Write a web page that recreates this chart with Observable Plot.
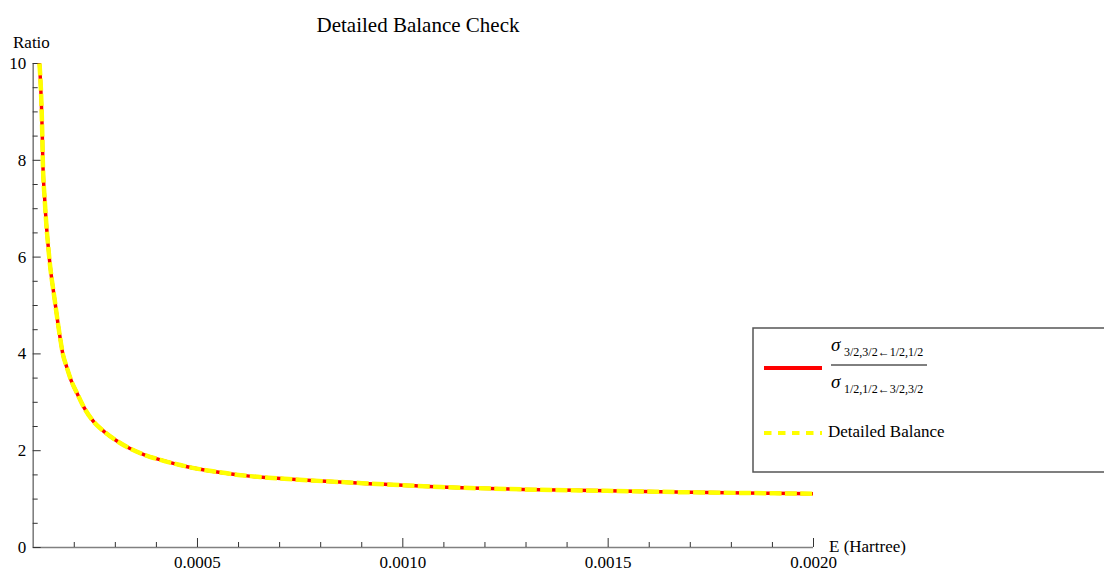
<!DOCTYPE html>
<html><head><meta charset="utf-8">
<script src="https://cdn.jsdelivr.net/npm/d3@7"></script>
<script src="https://cdn.jsdelivr.net/npm/@observablehq/plot@0.6"></script>
<style>body{margin:0;background:#fff;} #chart{width:1104px;height:572px;}</style>
</head><body><div id="chart"></div>
<script>
// Energy (Hartree) and the two ratio curves
const energy = [0.0001153, 0.0001222, 0.0001234, 0.0001282, 0.000139, 0.0001526, 0.0001665, 0.0001721, 0.0001804, 0.0001925, 0.0002071, 0.0002232, 0.0002451, 0.0002719, 0.0003021, 0.0003345, 0.0003693, 0.0004058, 0.000475, 0.000548, 0.000621, 0.000694, 0.000767, 0.0009, 0.001092, 0.001295, 0.001498, 0.0017, 0.001903, 0.002];
const crossSectionRatio = [10.0, 8.5, 8.0, 7.17, 6.0, 5.1, 4.28, 4.0, 3.76, 3.45, 3.18, 2.90, 2.62, 2.40, 2.21, 2.05, 1.92, 1.82, 1.67, 1.56, 1.48, 1.43, 1.39, 1.33, 1.25, 1.20, 1.17, 1.14, 1.12, 1.11];
const detailedBalance = [10.0, 8.5, 8.0, 7.17, 6.0, 5.1, 4.28, 4.0, 3.76, 3.45, 3.18, 2.90, 2.62, 2.40, 2.21, 2.05, 1.92, 1.82, 1.67, 1.56, 1.48, 1.43, 1.39, 1.33, 1.25, 1.20, 1.17, 1.14, 1.12, 1.11];

const xMajorTicks = [0.0005, 0.0010, 0.0015, 0.0020];
const xMinorTicks = [0.0002, 0.0003, 0.0004, 0.0006, 0.0007, 0.0008, 0.0009, 0.0011, 0.0012, 0.0013, 0.0014, 0.0016, 0.0017, 0.0018, 0.0019];
const yMajorTicks = [0, 2, 4, 6, 8, 10];
const yMinorTicks = [0.5, 1, 1.5, 2.5, 3, 3.5, 4.5, 5, 5.5, 6.5, 7, 7.5, 8.5, 9, 9.5];
const xDomain = [0.0001, 0.002];
const yDomain = [0, 10];

const title = "Detailed Balance Check";
const yLabel = "Ratio";
const xLabel = "E (Hartree)";
const legendNumSub = "3/2,3/2\u21901/2,1/2";
const legendDenSub = "1/2,1/2\u21903/2,3/2";
const legendBalance = "Detailed Balance";

const ratioData = energy.map((e, i) => ({e, r: crossSectionRatio[i]}));
const balanceData = energy.map((e, i) => ({e, r: detailedBalance[i]}));

const FONT = "Liberation Serif, Times New Roman, serif";
const axisColor = "#808080";

const plot = Plot.plot({
  width: 1104,
  height: 572,
  marginLeft: 32.7,
  marginRight: 291,
  marginTop: 63,
  marginBottom: 25,
  style: {fontFamily: FONT, fontSize: "17px", color: "#000", background: "#fff"},
  x: {domain: xDomain, label: null},
  y: {domain: yDomain, label: null},
  marks: [
    Plot.ruleX([xDomain[0]], {stroke: axisColor, strokeWidth: 1.6}),
    Plot.ruleY([0], {stroke: axisColor, strokeWidth: 1.6}),
    Plot.axisX(xMajorTicks, {tickSize: -9, tickPadding: 17, tickFormat: d3.format(".4f"), stroke: "#333", label: null}),
    Plot.axisX(xMinorTicks, {tickSize: -5, fill: "none", stroke: "#333", label: null}),
    Plot.axisY(yMajorTicks, {tickSize: -8, tickPadding: 15, tickFormat: d3.format("d"), stroke: "#333", label: null}),
    Plot.axisY(yMinorTicks, {tickSize: -5, fill: "none", stroke: "#333", label: null}),
    Plot.line(ratioData, {x: "e", y: "r", stroke: "#ff0000", strokeWidth: 3.5, strokeLinecap: "butt", curve: "monotone-x", clip: true}),
    Plot.line(balanceData, {x: "e", y: "r", stroke: "#ffff00", strokeWidth: 4.5, strokeLinecap: "butt", strokeDasharray: "12,3.3", curve: "monotone-x", clip: true})
  ]
});
document.getElementById("chart").appendChild(plot);

const svg = d3.select(plot);
const xs = plot.scale("x");
const g = svg.append("g").attr("font-family", FONT).attr("fill", "#000").attr("text-anchor", "start");
g.append("text").attr("x", 418).attr("y", 32).attr("text-anchor", "middle").attr("font-size", 21).text(title);
g.append("text").attr("x", 13).attr("y", 48).attr("font-size", 17).text(yLabel);
g.append("text").attr("x", xs.apply(xDomain[1]) + 16).attr("y", 552).attr("font-size", 17).text(xLabel);

// legend
const lg = svg.append("g").attr("font-family", FONT).attr("text-anchor", "start").attr("fill", "#000");
lg.append("rect").attr("x", 753).attr("y", 328).attr("width", 420).attr("height", 144)
  .attr("fill", "#fff").attr("stroke", "#555").attr("stroke-width", 1.5);
lg.append("line").attr("x1", 764).attr("x2", 822).attr("y1", 368).attr("y2", 368)
  .attr("stroke", "#ff0000").attr("stroke-width", 4);
lg.append("text").attr("x", 831).attr("y", 351).attr("font-size", 19).attr("font-style", "italic").text("\u03c3");
lg.append("text").attr("x", 844).attr("y", 356).attr("font-size", 12).text(legendNumSub);
lg.append("line").attr("x1", 831).attr("x2", 927).attr("y1", 365).attr("y2", 365)
  .attr("stroke", "#000").attr("stroke-width", 1);
lg.append("text").attr("x", 831).attr("y", 388).attr("font-size", 19).attr("font-style", "italic").text("\u03c3");
lg.append("text").attr("x", 844).attr("y", 393).attr("font-size", 12).text(legendDenSub);
lg.append("line").attr("x1", 764).attr("x2", 822).attr("y1", 433).attr("y2", 433)
  .attr("stroke", "#ffff00").attr("stroke-width", 4).attr("stroke-dasharray", "7.5,6.5");
lg.append("text").attr("x", 828).attr("y", 437).attr("font-size", 17).text(legendBalance);
</script>
</body></html>
